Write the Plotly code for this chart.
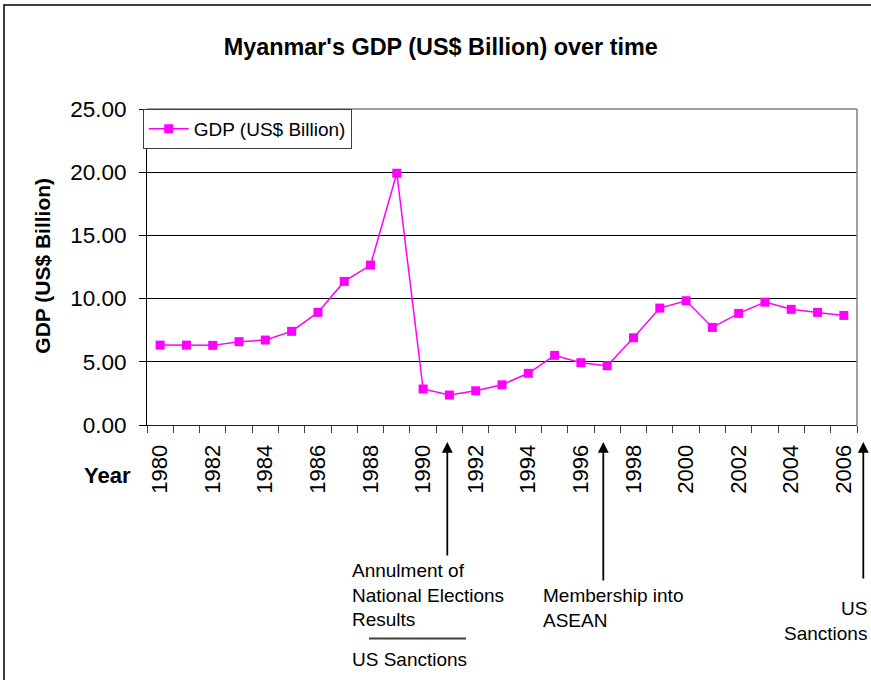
import plotly.graph_objects as go

years = list(range(1980, 2007))
gdp = [6.32, 6.32, 6.30, 6.59, 6.72, 7.41, 8.91, 11.36, 12.65, 19.92,
       2.85, 2.37, 2.71, 3.18, 4.09, 5.51, 4.93, 4.69, 6.90, 9.25,
       9.83, 7.72, 8.83, 9.72, 9.15, 8.91, 8.67]
tick_years = list(range(1980, 2007, 2))
tick_labels = [str(y) for y in tick_years]
y_ticks = [0, 5, 10, 15, 20, 25]

FONT = "Arial, Liberation Sans, sans-serif"
MAG = "#FF00FF"

fig = go.Figure()
fig.add_trace(go.Scatter(
    x=years, y=gdp, mode="lines+markers", name="GDP (US$ Billion)",
    line=dict(color=MAG, width=1.5),
    marker=dict(symbol="square", size=9, color=MAG),
))

fig.update_layout(
    width=871, height=680,
    margin=dict(l=147, r=14, t=109, b=255),
    paper_bgcolor="white", plot_bgcolor="white",
    font=dict(family=FONT, color="black"),
    showlegend=True,
    legend=dict(x=-0.006, y=1.0, xanchor="left", yanchor="top",
                bgcolor="white", bordercolor="#404040", borderwidth=1,
                font=dict(size=19, family=FONT), itemwidth=40),
    title=dict(text="<b>Myanmar's GDP (US$ Billion) over time</b>",
               x=0.506, xanchor="center", y=1 - 47 / 680, yanchor="middle",
               xref="container", yref="container",
               font=dict(size=23.4, family=FONT)),
)

fig.update_xaxes(
    range=[1979.5, 2006.5],
    tickmode="array", tickvals=tick_years, ticktext=tick_labels,
    tickangle=-90, tickfont=dict(size=22, family=FONT),
    ticks="outside", ticklen=7, tickcolor="rgba(0,0,0,0)",
    ticklabelstandoff=3,
    showgrid=False, zeroline=False,
    showline=True, linecolor="#202020", linewidth=1,
    minor=dict(tick0=1979.5, dtick=1, ticks="outside", ticklen=7,
               tickcolor="#404040", tickwidth=1, showgrid=False),
)
fig.update_yaxes(
    range=[0, 25], tickmode="array", tickvals=y_ticks,
    tickformat=".2f", tickfont=dict(size=22.5, family=FONT),
    ticks="outside", ticklen=7, tickcolor="black",
    ticklabelstandoff=8,
    showgrid=True, gridcolor="black", gridwidth=1, zeroline=False,
    showline=True, linecolor="black", linewidth=1,
)

def px2x(px):
    return (px - 147) / 710

def py2y(py):
    return (425 - py) / 316

shapes = [
    # top/right plot border (gray)
    dict(type="line", xref="paper", yref="paper", x0=0, x1=1, y0=1, y1=1,
         line=dict(color="#808080", width=1.5), layer="above"),
    dict(type="line", xref="paper", yref="paper", x0=1, x1=1, y0=0, y1=1,
         line=dict(color="#808080", width=1.5), layer="above"),
    # outer chart frame
    dict(type="rect", xref="paper", yref="paper",
         x0=px2x(4), x1=px2x(880), y0=py2y(5), y1=py2y(700),
         line=dict(color="black", width=1.5), layer="above"),
    # separator line under "Results"
    dict(type="line", xref="paper", yref="paper",
         x0=px2x(369), x1=px2x(466), y0=py2y(638.5), y1=py2y(638.5),
         line=dict(color="#404040", width=2)),
]
fig.update_layout(shapes=shapes)

ann_font = dict(size=19, family=FONT, color="black")
annotations = [
    # y axis title
    dict(text="<b>GDP (US$ Billion)</b>", textangle=-90, xref="paper", yref="paper",
         x=px2x(41.7), y=py2y(266), xanchor="center", yanchor="middle",
         showarrow=False, font=dict(size=21, family=FONT)),
    # x axis title
    dict(text="<b>Year</b>", xref="paper", yref="paper",
         x=px2x(107), y=py2y(475), xanchor="center", yanchor="middle",
         showarrow=False, font=dict(size=22, family=FONT)),
    # arrows
    dict(text="", xref="paper", yref="paper", x=px2x(447.3), y=py2y(442),
         ax=0, ay=115, showarrow=True, arrowhead=2, arrowsize=1.2, arrowwidth=1.8,
         arrowcolor="black"),
    dict(text="", xref="paper", yref="paper", x=px2x(603.3), y=py2y(442),
         ax=0, ay=140, showarrow=True, arrowhead=2, arrowsize=1.2, arrowwidth=1.8,
         arrowcolor="black"),
    dict(text="", xref="paper", yref="paper", x=px2x(863.3), y=py2y(442),
         ax=0, ay=138, showarrow=True, arrowhead=2, arrowsize=1.2, arrowwidth=1.8,
         arrowcolor="black"),
    # annotation texts
    dict(text="Annulment of<br>National Elections<br>Results", xref="paper", yref="paper",
         x=px2x(350), y=py2y(595), xanchor="left", yanchor="middle", align="left",
         showarrow=False, font=ann_font),
    dict(text="US Sanctions", xref="paper", yref="paper",
         x=px2x(350), y=py2y(659.3), xanchor="left", yanchor="middle", align="left",
         showarrow=False, font=ann_font),
    dict(text="Membership into<br>ASEAN", xref="paper", yref="paper",
         x=px2x(541), y=py2y(607.5), xanchor="left", yanchor="middle", align="left",
         showarrow=False, font=ann_font),
    dict(text="US<br>Sanctions", xref="paper", yref="paper",
         x=px2x(868.5), y=py2y(620.8), xanchor="right", yanchor="middle", align="right",
         showarrow=False, font=ann_font),
]
fig.update_layout(annotations=annotations)

fig.write_html("out.html", config={"displayModeBar": False},
               post_script="document.body.style.margin='0px';document.body.style.padding='0px';")
